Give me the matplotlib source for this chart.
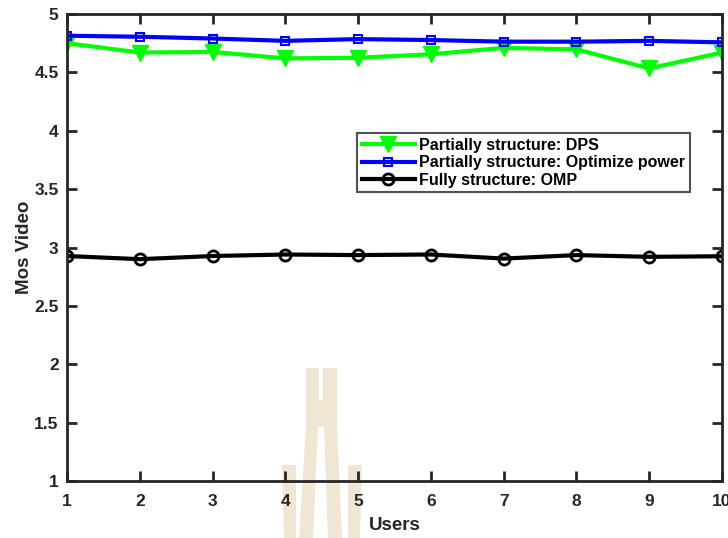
import matplotlib
matplotlib.use("Agg")
import matplotlib.pyplot as plt
from matplotlib.patches import Polygon

plt.rcParams['font.family'] = ['Liberation Sans', 'DejaVu Sans']
plt.rcParams['font.weight'] = 'bold'

users = [1, 2, 3, 4, 5, 6, 7, 8, 9, 10]
dps = [4.75, 4.67, 4.675, 4.62, 4.625, 4.655, 4.71, 4.697, 4.534, 4.67]
opt_power = [4.814, 4.805, 4.79, 4.77, 4.785, 4.777, 4.763, 4.763, 4.77, 4.757]
omp = [2.927, 2.90, 2.927, 2.94, 2.935, 2.94, 2.905, 2.935, 2.92, 2.925]

labels = ['Partially structure: DPS',
          'Partially structure: Optimize power',
          'Fully structure: OMP']

W, H = 728, 538
fig = plt.figure(figsize=(W / 100, H / 100), dpi=100)


def px(points):
    return [(x / W, 1 - y / H) for x, y in points]


# faint watermark logo behind the axes
beige = '#efe6d3'
logo = [
    [(306, 368), (319, 368), (319, 400), (321, 400), (321, 427),
     (318, 427), (313, 538), (299, 538), (306, 427)],
    [(323, 368), (337, 368), (337, 427), (342, 538), (328, 538),
     (324, 427), (321, 427), (321, 400), (323, 400)],
    [(282, 465), (296, 465), (296, 538), (284, 538)],
    [(348, 465), (362, 465), (360, 538), (348, 538)],
]
for pts in logo:
    fig.patches.append(Polygon(px(pts), closed=True, facecolor=beige,
                               edgecolor='none', transform=fig.transFigure, zorder=0))

left, right, top, bottom = 67, 722, 14, 481
ax = fig.add_axes([left / W, 1 - bottom / H, (right - left) / W, (bottom - top) / H])
ax.set_zorder(1)
ax.patch.set_alpha(0)

ax.plot(users, dps, color='#00ff00', lw=3, marker='v', ms=11,
        mfc='#00ff00', mec='#00ff00', label=labels[0])
ax.plot(users, opt_power, color='#0000ff', lw=3, marker='s', ms=6,
        mfc='none', mec='#0000ff', mew=1.5, label=labels[1])
ax.plot(users, omp, color='black', lw=3, marker='o', ms=8,
        mfc='none', mec='black', mew=2, label=labels[2])

ax.set_xlim(1, 10)
ax.set_ylim(1, 5)
ax.set_xticks(users)
ax.set_yticks([1, 1.5, 2, 2.5, 3, 3.5, 4, 4.5, 5])
ax.set_yticklabels(['1', '1.5', '2', '2.5', '3', '3.5', '4', '4.5', '5'])
ax.tick_params(direction='in', top=True, right=True, length=7, width=2,
               labelsize=12.5, colors='#262626')
ax.tick_params(axis='x', pad=9)
ax.tick_params(axis='y', pad=6)
for lab in ax.get_xticklabels() + ax.get_yticklabels():
    lab.set_fontweight('bold')
for s in ax.spines.values():
    s.set_linewidth(2)
    s.set_color('#262626')

ax.set_xlabel('Users', fontsize=13.5, fontweight='bold', color='#262626', labelpad=6)
ax.set_ylabel('Mos Video', fontsize=13.5, fontweight='bold', color='#262626', labelpad=1)

leg = ax.legend(loc='upper left',
                bbox_to_anchor=((357 - left) / (right - left), 1 - (133 - top) / (bottom - top)),
                prop={'weight': 'bold', 'size': 11.5}, frameon=True, fancybox=False,
                edgecolor='#262626', borderpad=0.3, labelspacing=0.15,
                handlelength=3.3, handletextpad=0.3, borderaxespad=0)
leg.get_frame().set_linewidth(1.5)

fig.savefig('out.png', dpi=100)
